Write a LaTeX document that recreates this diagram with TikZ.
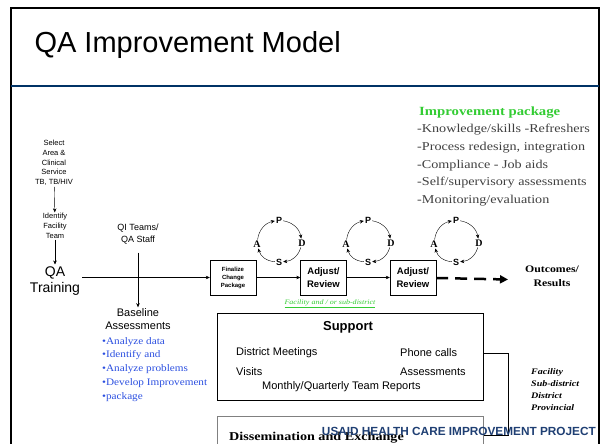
\documentclass[tikz,border=0pt]{standalone}
\usepackage{fontspec}
\setmainfont{Liberation Serif}
\setsansfont{Liberation Sans}
\newfontfamily\garafont[FakeStretch=1.18]{Liberation Serif}
\usetikzlibrary{arrows.meta}
\definecolor{titleblue}{HTML}{003366}
\definecolor{pkggreen}{HTML}{33CC33}
\definecolor{bulletblue}{HTML}{2B4FE0}
\definecolor{usaidblue}{HTML}{1F3F73}
\definecolor{pkggray}{HTML}{404040}
\begin{document}
\begin{tikzpicture}[x=1pt, y=-1pt, >={Stealth[length=4pt,width=3.5pt]},
    small/.style={font=\sffamily\fontsize{7.5}{9.7}\selectfont, align=center, inner sep=1pt},
    stepbox/.style={draw, fill=white, minimum width=46pt, minimum height=35pt, align=center},
    sfnote/.style={anchor=west, font=\sffamily\fontsize{11}{13}\selectfont, inner sep=0}]
    \useasboundingbox (0,0) rectangle (600,444);

    % frame and title
    \draw [line width=1.5pt] (11,444) -- (11,8) -- (599,8) -- (599,444);
    \draw [titleblue, line width=1.2pt] (11,86) -- (599,86);
    \node [anchor=west, font=\sffamily\fontsize{29}{30}\selectfont] (title) at (31,45) {QA Improvement Model};

    % left column
    \node [small] (select) at (54,163) {Select\\Area \&\\Clinical\\Service\\TB, TB/HIV};
    \node [small] (identify) at (55,226) {Identify\\Facility\\Team};
    \node [font=\sffamily\fontsize{14}{16}\selectfont, align=center, inner sep=2pt] (training) at (55,281) {QA\\Training};
    \draw [->] (select) -- (identify);
    \draw [->] (identify) -- (training);

    \node [font=\sffamily\fontsize{9}{12}\selectfont, align=center] (qiteams) at (138,234) {QI Teams/\\QA Staff};
    \node [font=\sffamily\fontsize{11}{13}\selectfont, align=center, inner sep=1pt] (baseline) at (138,319) {Baseline\\Assessments};
    \draw [->, shorten <=5pt] (qiteams) -- (baseline);
    \node [anchor=north west, align=left, inner sep=0, text=bulletblue, font=\fontsize{10}{13.8}\selectfont\addfontfeatures{FakeStretch=1.12}] (bullets) at (102,337)
        {•Analyze data\\•Identify and\\•Analyze problems\\•Develop Improvement\\•package};

    % steps
    \node [stepbox, font=\sffamily\bfseries\fontsize{6}{8}\selectfont] (finalize) at (233,277.5) {Finalize\\Change\\Package};
    \node [stepbox, font=\sffamily\bfseries\fontsize{9.5}{13}\selectfont] (review1) at (323.5,277.5) {Adjust/\\Review};
    \node [stepbox, font=\sffamily\bfseries\fontsize{9.5}{13}\selectfont] (review2) at (413,277.5) {Adjust/\\Review};
    \draw [->] (training.east |- finalize.west) -- (finalize.west);
    \draw [->] (finalize) -- (review1);
    \draw [->] (review1) -- (review2);

    \node [font=\garafont\bfseries\fontsize{10}{14}\selectfont, align=center] (outcomes) at (552,276) {Outcomes/\\Results};
    \coordinate (dashend) at (508,279.5);
    \draw [-{Triangle[length=8pt,width=8pt]}, line width=2.5pt, dash pattern=on 12pt off 7pt] (review2) -- (dashend);

    % PDSA cycles
    \foreach \cx/\nm in {279/a, 368/b, 456/c} {
        \node [font=\sffamily\bfseries\fontsize{9}{10}\selectfont, inner sep=1pt] (p\nm) at (\cx,220) {P};
        \node [font=\bfseries\fontsize{10}{10}\selectfont, inner sep=1pt] (d\nm) at (\cx+23,243) {D};
        \node [font=\sffamily\bfseries\fontsize{9}{10}\selectfont, inner sep=1pt] (s\nm) at (\cx,262) {S};
        \node [font=\bfseries\fontsize{10}{10}\selectfont, inner sep=1pt] (a\nm) at (\cx-22,244) {A};
        \draw [->] (a\nm) to [bend left=35] (p\nm);
        \draw [->] (p\nm) to [bend left=35] (d\nm);
        \draw [->] (d\nm) to [bend left=35] (s\nm);
        \draw [->] (s\nm) to [bend left=35] (a\nm);
    }
    \node [font=\garafont\itshape\fontsize{6.8}{7}\selectfont, text=pkggreen] (level) at (330,304) {\underline{Facility and / or sub-district}};

    % improvement package
    \node [anchor=west, inner sep=0, text=pkggreen, font=\garafont\bfseries\fontsize{12.5}{14}\selectfont] (pkghead) at (419,113) {Improvement package};
    \node [anchor=north west, align=left, inner sep=0, text=pkggray, font=\garafont\fontsize{12}{17.7}\selectfont] (pkglist) at (417,124)
        {-Knowledge/skills -Refreshers\\-Process redesign, integration\\-Compliance - Job aids\\-Self/supervisory assessments\\-Monitoring/evaluation};

    % support
    \node [draw, line width=1pt, minimum width=266pt, minimum height=87pt] (support) at (350,356.5) {};
    \node [font=\sffamily\bfseries\fontsize{13}{15}\selectfont] (supporttitle) at (348,327) {Support};
    \node [sfnote] (meetings) at (236,353) {District Meetings};
    \node [sfnote] (phone) at (400,353) {Phone calls};
    \node [sfnote] (visits) at (236,372) {Visits};
    \node [sfnote] (assess) at (400,372) {Assessments};
    \node [sfnote] (reports) at (262,387) {Monthly/Quarterly Team Reports};

    \node [draw=gray, line width=1pt, minimum width=266pt, minimum height=40pt] (dissem) at (350,436) {};
    \node [anchor=west, inner sep=0, font=\garafont\bfseries\fontsize{12}{14}\selectfont] (dissemtext) at (229,438) {Dissemination and Exchange};

    \coordinate (tie) at (508,435);
    \draw (support.east |- phone) -| (tie) -- (tie -| dissem.east);
    \node [anchor=north west, align=left, inner sep=0, font=\garafont\bfseries\itshape\fontsize{8.5}{12}\selectfont] (levels) at (531,368)
        {Facility\\Sub-district\\District\\Provincial};

    \node [anchor=east, inner sep=0, text=usaidblue, font=\sffamily\bfseries\fontsize{11.8}{13}\selectfont] (usaid) at (596,431) {USAID HEALTH CARE IMPROVEMENT PROJECT};
\end{tikzpicture}
\end{document}
